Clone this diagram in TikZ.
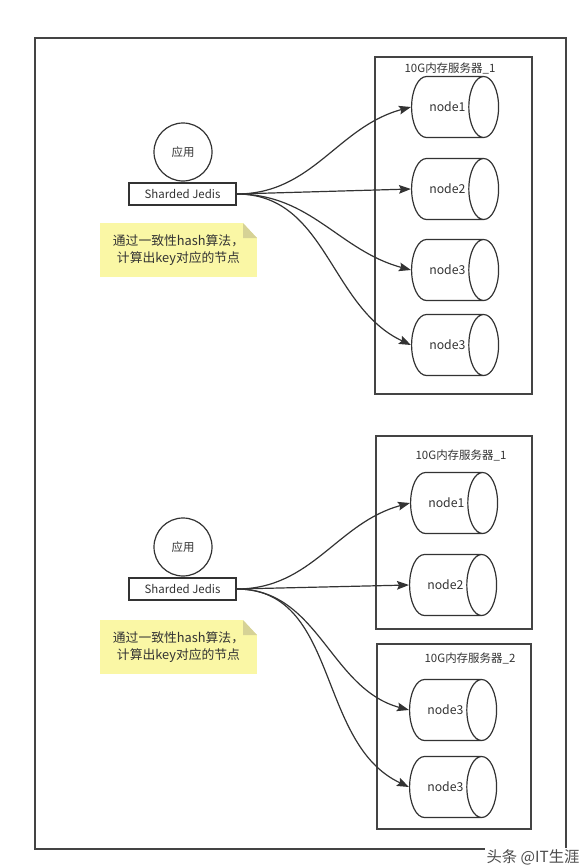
\documentclass[tikz,border=0pt]{standalone}
\usepackage{fontspec}
\setmainfont{Noto Sans CJK SC}
\usetikzlibrary{shapes.geometric,arrows.meta}
\definecolor{linegray}{RGB}{51,51,51}
\definecolor{framegray}{RGB}{68,68,68}
\definecolor{notefill}{RGB}{250,247,165}
\definecolor{foldfill}{RGB}{214,210,150}
\begin{document}
\begin{tikzpicture}[x=0.75pt,y=0.75pt,yscale=-1,xscale=1,
  every node/.style={text=linegray},
  dbnode/.style={cylinder,draw=linegray,line width=0.9pt,aspect=3,minimum height=65.25pt,minimum width=45.75pt,anchor=west,inner sep=0pt,font=\fontsize{9.2}{10}\selectfont},
  appnode/.style={circle,draw=linegray,line width=0.9pt,minimum size=43.5pt,inner sep=0pt,font=\fontsize{8.6}{10}\selectfont},
  jedisbox/.style={rectangle,draw=linegray,line width=1pt,minimum width=80.25pt,minimum height=16.5pt,inner sep=0pt,font=\fontsize{8.6}{10}\selectfont},
  notebox/.style={fill=notefill,minimum width=117.75pt,minimum height=40.5pt,inner sep=0pt,align=center,font=\fontsize{9.6}{12.5}\selectfont,
    path picture={
      \fill[white] ([xshift=-10.5pt]path picture bounding box.north east) -- (path picture bounding box.north east) -- ([yshift=-11.25pt]path picture bounding box.north east) -- cycle;
      \fill[foldfill] ([xshift=-10.5pt]path picture bounding box.north east) -- ([yshift=-11.25pt]path picture bounding box.north east) -- ([xshift=-10.5pt,yshift=-11.25pt]path picture bounding box.north east) -- cycle;
    }},
  framebox/.style={draw=framegray,line width=1.1pt},
  serverbox/.style={draw=framegray,line width=1pt},
  serverlabel/.style={font=\fontsize{8.6}{10}\selectfont},
  link/.style={draw=linegray,line width=0.9pt,-{Stealth[length=9pt,width=6.5pt,inset=1.5pt]}}
]
\useasboundingbox (0,0) rectangle (587,868);

%Outer Frame
\draw[framebox] (35,38) rectangle (566,849);

%Server Boxes
\draw[serverbox] (375,57) rectangle (532,394);
\draw[serverbox] (376,436) rectangle (532,629);
\draw[serverbox] (377,644) rectangle (531,829);

% Text Node
\node[serverlabel] (srvA) at (450,68) {10G内存服务器\_1};
% Text Node
\node[serverlabel] (srvB) at (461,455) {10G内存服务器\_1};
% Text Node
\node[serverlabel] (srvC) at (470,658) {10G内存服务器\_2};

%Upper Client
\node[appnode] (app1) at (183,152) {应用};
\node[jedisbox] (jedis1) at (182.5,194) {Sharded Jedis};
\node[notebox] (note1) at (178.5,250) {通过一致性hash算法，\\计算出key对应的节点};

%Upper Nodes
\node[dbnode] (a1) at (411,107) {node1};
\node[dbnode] (a2) at (411,189) {node2};
\node[dbnode] (a3) at (411,270) {node3};
\node[dbnode] (a4) at (411,345) {node3};

%Lower Client
\node[appnode] (app2) at (183,547) {应用};
\node[jedisbox] (jedis2) at (182.5,589) {Sharded Jedis};
\node[notebox] (note2) at (178.5,647) {通过一致性hash算法，\\计算出key对应的节点};

%Lower Nodes
\node[dbnode] (b1) at (410,503) {node1};
\node[dbnode] (b2) at (409,585) {node2};
\node[dbnode] (b3) at (409,710) {node3};
\node[dbnode] (b4) at (409,787) {node3};

%Curve Lines
\draw[link] (jedis1.east) to[out=0,in=165] (a1.west);
\draw[link] (jedis1.east) -- (a2.west);
\draw[link] (jedis1.east) to[out=0,in=195] (a3.west);
\draw[link] (jedis1.east) to[out=0,in=205] (a4.west);

%Curve Lines
\draw[link] (jedis2.east) to[out=0,in=165] (b1.west);
\draw[link] (jedis2.east) -- (b2.west);
\draw[link] (jedis2.east) to[out=0,in=195] (b3.west);
\draw[link] (jedis2.east) to[out=0,in=205] (b4.west);

% Text Node
\node[fill=white,inner sep=1pt,text=black!70,font=\fontsize{11.5}{12}\selectfont] (mark) at (533,857) {头条 @IT生涯};

\end{tikzpicture}
\end{document}
